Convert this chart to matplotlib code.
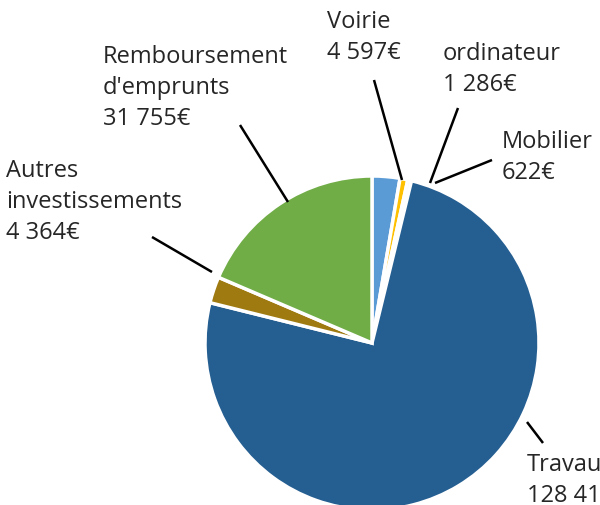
import matplotlib
matplotlib.use("Agg")
import matplotlib.pyplot as plt

# données (sens horaire à partir de midi)
labels = ["Voirie", "ordinateur", "Mobilier", "Travaux",
          "Autres\ninvestissements", "Remboursement\nd'emprunts"]
montants = [4597, 1286, 622, 128414, 4364, 31755]
montants_txt = ["4 597€", "1 286€", "622€", "128 414€", "4 364€", "31 755€"]
couleurs = ["#5B9BD5", "#FFC000", "#F2F2F2", "#255E91", "#9E7A10", "#70AD47"]

W, H = 600, 505
fig = plt.figure(figsize=(W / 100, H / 100), dpi=100)
ax = fig.add_axes([0, 0, 1, 1])

cx, cy, r = 372, 343, 167
ax.pie(montants, colors=couleurs, startangle=90, counterclock=False,
       center=(cx, H - cy), radius=r, frame=True,
       wedgeprops=dict(edgecolor="white", linewidth=2.5))
ax.set_xlim(0, W)
ax.set_ylim(0, H)
ax.set_aspect("equal")
ax.axis("off")

# position des étiquettes (pixels, origine en haut à gauche) et des traits
pos_txt = [(327, 10), (443, 42), (502, 130), (527, 453), (6, 159), (103, 45)]
traits = [((374, 80), (402, 180)), ((458, 108), (430, 183)),
          ((492, 160), (435, 183)), ((543, 443), (527, 422)),
          ((152, 237), (212, 272)), ((240, 125), (288, 202))]

for lab, txt, (x, y) in zip(labels, montants_txt, pos_txt):
    ax.text(x, H - y, lab + "\n" + txt, ha="left", va="top",
            fontsize=17, family="Open Sans", color="#262626",
            linespacing=1.38)

for (x1, y1), (x2, y2) in traits:
    ax.plot([x1, x2], [H - y1, H - y2], color="black", lw=1.8,
            solid_capstyle="butt")

fig.savefig("out.png", dpi=100)
